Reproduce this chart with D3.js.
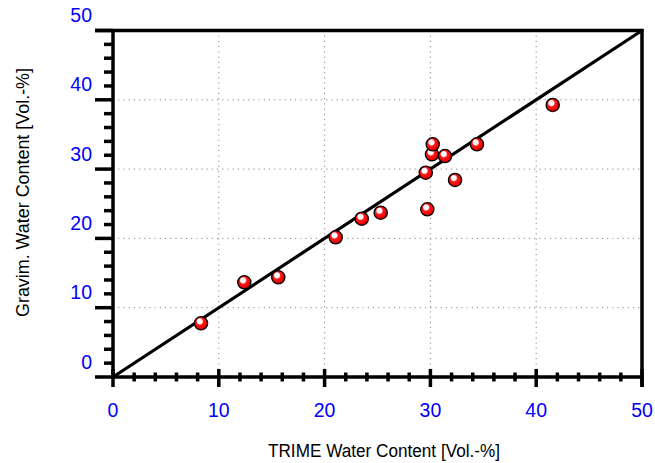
<!DOCTYPE html>
<html><head><meta charset="utf-8">
<script src="https://cdn.jsdelivr.net/npm/d3@7"></script>
<style>body{margin:0;background:#fff}svg{display:block}</style>
</head><body>
<script>
const trime = [8.32, 12.41, 15.62, 21.05, 23.51, 25.30, 29.71, 29.56, 30.15, 30.22, 31.38, 32.33, 34.40, 41.56];
const gravim = [7.75, 13.67, 14.39, 20.16, 22.84, 23.71, 24.20, 29.48, 32.14, 33.58, 31.89, 28.43, 33.58, 39.25];
const xTicks = [0, 10, 20, 30, 40, 50];
const yTicks = [0, 10, 20, 30, 40, 50];
const xTitle = "TRIME Water Content [Vol.-%]";
const yTitle = "Gravim. Water Content [Vol.-%]";

const W = 655, H = 463;
const L = 113, R = 642, T = 30.5, B = 377;
const FONT = "Liberation Sans, Arial, sans-serif";
const svg = d3.select("body").append("svg").attr("width", W).attr("height", H);
const x = d3.scaleLinear().domain([0, 50]).range([L, R]);
const y = d3.scaleLinear().domain([0, 50]).range([B, T]);

const defs = svg.append("defs");
const g = defs.append("radialGradient").attr("id", "ball").attr("cx", "45%").attr("cy", "42%").attr("r", "62%").attr("fx", "38%").attr("fy", "32%");
g.append("stop").attr("offset", "0%").attr("stop-color", "#fff");
g.append("stop").attr("offset", "30%").attr("stop-color", "#fff");
g.append("stop").attr("offset", "44%").attr("stop-color", "#ff1a1a");
g.append("stop").attr("offset", "85%").attr("stop-color", "#e80000");
g.append("stop").attr("offset", "100%").attr("stop-color", "#a00000");

// grid
const grid = svg.append("g").attr("stroke", "#888").attr("stroke-width", 1).attr("stroke-dasharray", "1.2,4");
xTicks.slice(1, -1).forEach(v => grid.append("line").attr("x1", x(v)).attr("x2", x(v)).attr("y1", T).attr("y2", B));
yTicks.slice(1, -1).forEach(v => grid.append("line").attr("y1", y(v)).attr("y2", y(v)).attr("x1", L).attr("x2", R));

// 1:1 line
svg.append("line").attr("x1", x(0)).attr("y1", y(0)).attr("x2", x(50)).attr("y2", y(50))
  .attr("stroke", "#000").attr("stroke-width", 3.2);

// axes (scale-driven, labels drawn below)
const xAxis = svg.append("g").attr("transform", `translate(0,${B})`)
  .call(d3.axisBottom(x).tickValues(xTicks).tickSize(0).tickFormat(""));
xAxis.select(".domain").remove();
const yAxis = svg.append("g").attr("transform", `translate(${L},0)`)
  .call(d3.axisLeft(y).tickValues(yTicks).tickSize(0).tickFormat(""));
yAxis.select(".domain").remove();

const ax = svg.append("g").attr("stroke", "#000");
ax.append("line").attr("x1", L).attr("x2", R + 1.5).attr("y1", B).attr("y2", B).attr("stroke-width", 3.5);
ax.append("line").attr("x1", L).attr("x2", L).attr("y1", T - 1.5).attr("y2", B + 1).attr("stroke-width", 3.5);
ax.append("line").attr("x1", L - 18).attr("x2", R + 1.5).attr("y1", T).attr("y2", T).attr("stroke-width", 3.5);
ax.append("line").attr("x1", R).attr("x2", R).attr("y1", T - 1.5).attr("y2", B + 10).attr("stroke-width", 3.5);
d3.range(0, 50.01, 2).forEach(v => {
  const major = v % 10 === 0;
  ax.append("line").attr("x1", x(v)).attr("x2", x(v))
    .attr("y1", B - (major ? 8 : 4.5)).attr("y2", B + (major ? 10 : 4.5)).attr("stroke-width", 3.5);
});
d3.range(0, 50.01, 2).forEach(v => {
  const major = v % 10 === 0;
  ax.append("line").attr("y1", y(v)).attr("y2", y(v))
    .attr("x1", L - (major ? 18 : 9)).attr("x2", L).attr("stroke-width", 3.5);
});

// tick labels
svg.append("g").selectAll("text").data(xTicks).join("text")
  .attr("x", d => x(d)).attr("y", 417).attr("text-anchor", "middle")
  .attr("font-family", FONT).attr("font-size", 19.5).attr("fill", "#0000ff")
  .text(d => d);
svg.append("g").selectAll("text").data(yTicks).join("text")
  .attr("x", 92).attr("y", d => y(d) - 8.5).attr("text-anchor", "end")
  .attr("font-family", FONT).attr("font-size", 19.5).attr("fill", "#0000ff")
  .text(d => d);

// titles
svg.append("text").attr("x", 268).attr("y", 457)
  .attr("textLength", 232).attr("lengthAdjust", "spacingAndGlyphs")
  .attr("font-family", FONT).attr("font-size", 18).attr("fill", "#000").text(xTitle);
svg.append("text").attr("transform", `translate(29,317) rotate(-90)`)
  .attr("textLength", 249).attr("lengthAdjust", "spacingAndGlyphs")
  .attr("font-family", FONT).attr("font-size", 18).attr("fill", "#000").text(yTitle);

// points
const pts = trime.map((t, i) => ({ t, g: gravim[i] }));
svg.append("g").selectAll("circle").data(pts).join("circle")
  .attr("cx", d => x(d.t)).attr("cy", d => y(d.g)).attr("r", 6.6)
  .attr("fill", "url(#ball)").attr("stroke", "#000").attr("stroke-width", 1.3);
</script>
</body></html>
